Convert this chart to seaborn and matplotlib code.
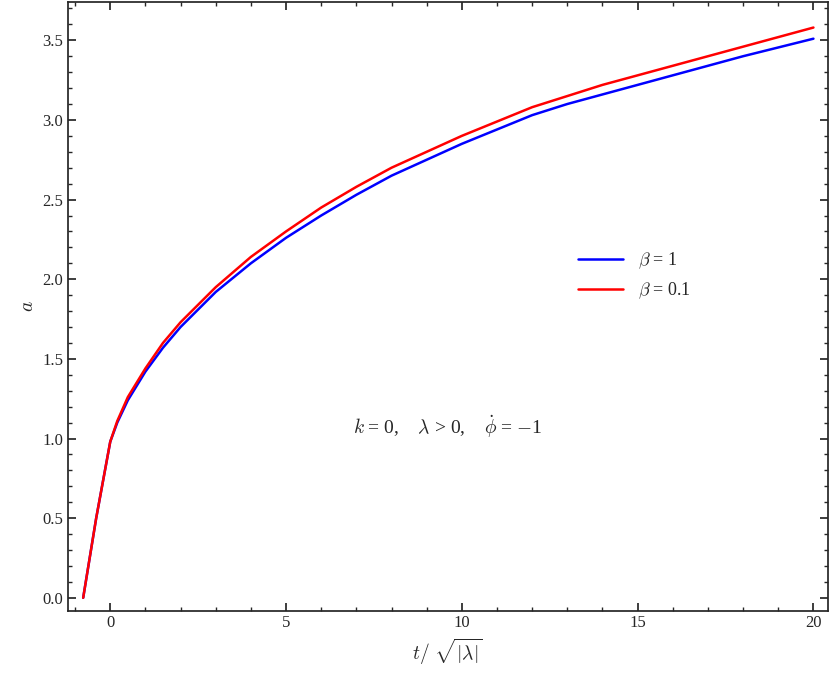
import matplotlib
matplotlib.use("Agg")
import matplotlib.pyplot as plt
import pandas as pd
import seaborn as sns
from matplotlib.ticker import AutoMinorLocator

# values
t_vals = [-0.77, -0.4, 0.0, 0.2, 0.5, 1, 1.5, 2, 3, 4, 5, 6, 7, 8, 9, 10, 11, 12, 13, 14, 15, 16, 17, 18, 19, 20]
a_beta1 = [0.0, 0.5, 0.98, 1.10, 1.24, 1.42, 1.57, 1.70, 1.92, 2.10, 2.26, 2.40, 2.53, 2.65, 2.75, 2.85, 2.94, 3.03,
           3.10, 3.16, 3.22, 3.28, 3.34, 3.40, 3.455, 3.51]
a_beta01 = [0.0, 0.5, 0.98, 1.11, 1.26, 1.44, 1.60, 1.73, 1.95, 2.14, 2.30, 2.45, 2.58, 2.70, 2.80, 2.90, 2.99, 3.08,
            3.15, 3.22, 3.28, 3.34, 3.40, 3.46, 3.52, 3.58]

sns.set_theme(style="ticks")
plt.rcParams.update({"font.family": "serif", "font.serif": ["Liberation Serif", "DejaVu Serif"],
                     "mathtext.fontset": "cm"})

df = pd.concat([
    pd.DataFrame({"t": t_vals, "a": a_beta1, "beta": r"$\beta$ = 1"}),
    pd.DataFrame({"t": t_vals, "a": a_beta01, "beta": r"$\beta$ = 0.1"}),
])

fig, ax = plt.subplots(figsize=(8.3, 6.86), dpi=100)
sns.lineplot(data=df, x="t", y="a", hue="beta", palette=["#0000ff", "#ff0000"],
             linewidth=1.8, ax=ax, sort=False)
ax.set_xlim(-1.2, 20.4)
ax.set_ylim(-0.08, 3.74)
ax.set_xticks([0, 5, 10, 15, 20])
ax.set_yticks([0.0, 0.5, 1.0, 1.5, 2.0, 2.5, 3.0, 3.5])
ax.set_yticklabels([f"{v:.1f}" for v in ax.get_yticks()])
ax.xaxis.set_minor_locator(AutoMinorLocator(5))
ax.yaxis.set_minor_locator(AutoMinorLocator(5))
ax.tick_params(which="both", direction="in", top=True, right=True, labelsize=12)
ax.tick_params(which="major", length=6)
ax.tick_params(which="minor", length=3)
ax.set_xlabel(r"$t/\ \sqrt{|\lambda|}$", fontsize=14)
ax.set_ylabel(r"$a$", fontsize=14)
ax.legend(title=None, frameon=False, loc="center left", bbox_to_anchor=(0.65, 0.55),
          fontsize=13, handlelength=2.5)
ax.text(0.5, 0.29, r"$k$ = 0,    $\lambda$ > 0,    $\dot{\phi}$ = $-$1",
        transform=ax.transAxes, ha="center", fontsize=14)
fig.subplots_adjust(left=0.082, right=0.997, top=0.997, bottom=0.11)
fig.savefig("out.png", dpi=100)
